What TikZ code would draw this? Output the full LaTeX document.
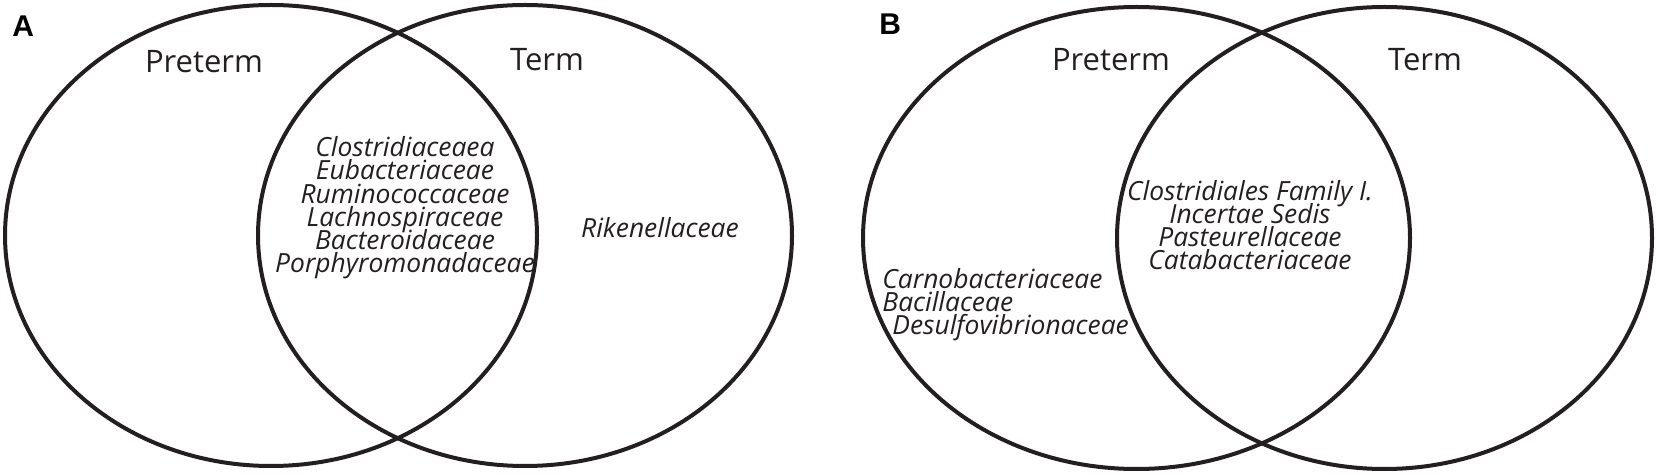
\documentclass[tikz,border=0pt]{standalone}
\usepackage{fontspec}
\setmainfont{Open Sans}
\newfontfamily\panelfont{Liberation Sans}
\usetikzlibrary{shapes.geometric}
\definecolor{vennline}{HTML}{231F20}
\newcommand{\taxafont}{\fontsize{13.2}{11.65}\selectfont\itshape\lineskiplimit=-10pt\relax}

\begin{document}
\begin{tikzpicture}[x=0.5pt, y=-0.5pt,
setnode/.style={shape=ellipse, draw=vennline, line width=2pt, inner sep=0pt},
groupname/.style={font=\fontsize{15.5}{18}\selectfont, text=vennline, anchor=base, inner sep=0pt},
taxa/.style={font=\taxafont, text=vennline, align=center, anchor=base, inner sep=0pt},
panel/.style={font=\panelfont\bfseries\fontsize{15}{18}\selectfont, anchor=base west, inner sep=0pt}
]
\useasboundingbox (0,0) rectangle (1659,475);

% panel A
\node (setpreA) [setnode, minimum width=266pt, minimum height=230.5pt] at (271,235.5) {};
\node (settermA) [setnode, minimum width=267pt, minimum height=230.5pt] at (525,235.5) {};
\node (labelA) [panel] at (12,37) {A};
\node (preA) [groupname] at (204,73) {Preterm};
\node (termA) [groupname] at (547,71) {Term};
\node (sharedA) [taxa] at (405,273) {Clostridiaceaea\\Eubacteriaceae\\Ruminococcaceae\\Lachnospiraceae\\Bacteroidaceae\\Porphyromonadaceae};
\node (onlytermA) [taxa] at (660,238) {Rikenellaceae};

% panel B
\node (setpreB) [setnode, minimum width=273.5pt, minimum height=231pt] at (1136.5,238) {};
\node (settermB) [setnode, minimum width=267.5pt, minimum height=231pt] at (1384.5,238) {};
\node (labelB) [panel] at (879,35) {B};
\node (preB) [groupname] at (1111,71) {Preterm};
\node (termB) [groupname] at (1425,71) {Term};
\node (sharedB) [taxa] at (1250,270) {Clostridiales Family I.\\Incertae Sedis\\Pasteurellaceae\\Catabacteriaceae};
\node (onlypreB) [taxa, align=left, anchor=base west] at (882,335) {Carnobacteriaceae\\Bacillaceae\\\hskip5pt Desulfovibrionaceae};
\end{tikzpicture}
\end{document}
